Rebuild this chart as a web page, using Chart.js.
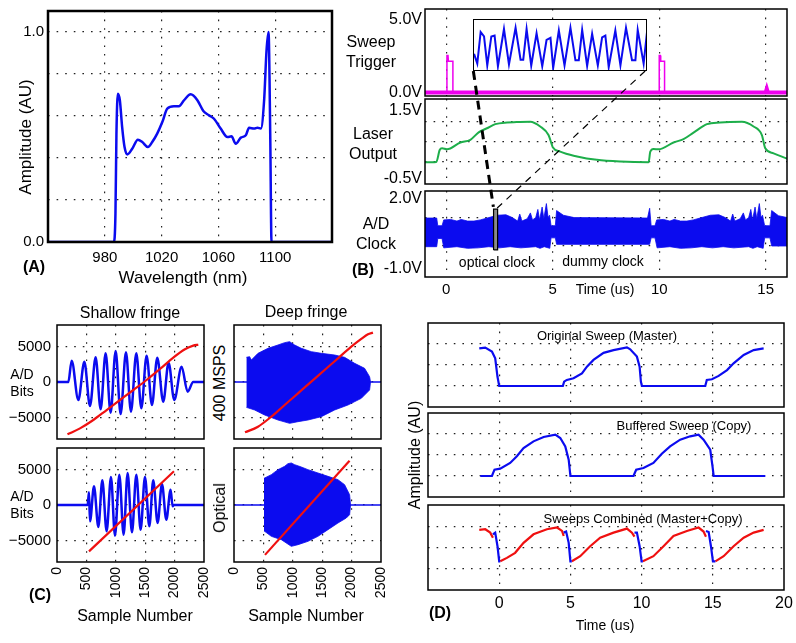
<!DOCTYPE html>
<html><head><meta charset="utf-8">
<script src="https://cdn.jsdelivr.net/npm/chart.js@4.4.1/dist/chart.umd.min.js"></script>
<style>
html,body{margin:0;padding:0;background:#fff;}
#page{position:relative;width:796px;height:643px;overflow:hidden;background:#fff;font-family:"Liberation Sans",Arial,sans-serif;color:#000;}
.t{position:absolute;white-space:nowrap;line-height:1;transform:translate(-50%,-50%);z-index:8;}
canvas{position:absolute;}
</style></head><body><div id="page"></div>
<script>
// ---------------- DATA ----------------
// (A) spectrum
const specWl  = [940, 986.4, 987.5, 988.2, 989.2, 990.6, 992.2, 993.9, 995.8, 999.3, 1003.3, 1006.4, 1010.4, 1013.4, 1016.9, 1020.5, 1024.0, 1028.7, 1032.2, 1035.8, 1040.5, 1045.2, 1049.4, 1053.4, 1056.9, 1061.6, 1066.4, 1069.2, 1072.2, 1075.8, 1079.3, 1081.6, 1085.2, 1087.5, 1089.9, 1092.2, 1093.9, 1095.3, 1096.5, 1097.4, 1140];
const specAmp = [0, 0, 0.135, 0.516, 0.706, 0.675, 0.548, 0.452, 0.417, 0.444, 0.487, 0.476, 0.452, 0.476, 0.516, 0.571, 0.635, 0.646, 0.646, 0.675, 0.703, 0.675, 0.624, 0.603, 0.587, 0.540, 0.500, 0.503, 0.468, 0.497, 0.508, 0.544, 0.540, 0.544, 0.540, 0.675, 0.913, 1.0, 0.516, 0, 0];
const specXTicks = [980, 1020, 1060, 1100];
const specYGrid = [0.2, 0.4, 0.6, 0.8, 1.0];
const specYTickVals = [0, 1.0];
const specYTickLabels = ['0.0', '1.0'];

// (B) sweep trigger
const trigBaseT = [-1, 15.0, 15.05, 15.1, 16];
const trigBaseV = [0, 0, 0.25, 0, 0];
const trigPulseT = [0.03, 0.03, 0.08, 0.1, 0.31, 0.31, null, 10.0, 10.0, 10.05, 10.07, 10.25, 10.25];
const trigPulseV = [0, 2.55, 2.55, 2.15, 2.15, 0, null, 0, 2.55, 2.55, 2.15, 2.15, 0];
// (B) laser output
const laserT = [-1.0, -0.47, -0.31, -0.2, 0.03, 0.66, 1.13, 1.52, 1.91, 2.3, 2.85, 3.3, 3.94, 4.41, 4.8, 4.96, 5.0, 5.35, 6.14, 7.07, 8.17, 9.5, 9.58, 9.73, 9.97, 10.67, 11.14, 11.61, 12.24, 12.86, 13.88, 14.43, 14.82, 14.98, 15.37, 16.0];
const laserV = [-0.01, 0.0, 0.35, 0.40, 0.37, 0.57, 0.65, 0.87, 0.99, 1.11, 1.16, 1.17, 1.18, 1.04, 0.79, 0.5, 0.43, 0.30, 0.16, 0.06, 0.01, -0.01, 0.30, 0.38, 0.37, 0.57, 0.67, 0.86, 1.11, 1.16, 1.18, 1.04, 0.79, 0.40, 0.25, 0.10];
// (B) A/D clock envelope: upper and lower edges
const clockUpT = [-1.0, -0.45, -0.4, -0.2, -0.12, 0.2, 0.5, 0.7, 1.0, 1.3, 1.6, 2.0, 2.4, 2.8, 3.1, 3.35, 3.45, 3.55, 3.8, 3.95, 4.05, 4.2, 4.3, 4.38, 4.5, 4.58, 4.7, 4.78, 4.85, 4.92, 5.12, 5.18, 5.5, 6.0, 9.45, 9.55, 9.62, 9.8, 9.88, 10.2, 10.5, 10.7, 11.0, 11.3, 11.6, 12.0, 12.4, 12.8, 13.1, 13.35, 13.45, 13.55, 13.8, 13.95, 14.05, 14.2, 14.3, 14.38, 14.5, 14.58, 14.7, 14.78, 14.85, 14.95, 15.2, 15.28, 15.6, 16.0];
const clockUpV = [1.18, 1.18, 0.85, 0.85, 1.1, 1.12, 1.05, 1.12, 1.05, 1.05, 1.1, 1.2, 1.3, 1.32, 1.2, 1.05, 1.35, 1.05, 1.15, 1.4, 1.1, 1.2, 1.55, 1.1, 1.65, 1.15, 1.8, 1.2, 1.3, 0.85, 0.85, 1.5, 1.3, 1.2, 1.18, 1.6, 0.85, 0.85, 1.1, 1.12, 1.05, 1.12, 1.05, 1.05, 1.1, 1.2, 1.3, 1.32, 1.2, 1.05, 1.35, 1.05, 1.15, 1.4, 1.1, 1.2, 1.55, 1.1, 1.65, 1.15, 1.8, 1.2, 1.3, 0.85, 0.85, 1.5, 1.28, 1.2];
const clockLoT = [-1.0, -0.45, -0.4, -0.2, -0.12, 0.5, 1.0, 1.5, 2.0, 2.5, 3.0, 3.5, 4.2, 4.4, 4.6, 4.86, 4.92, 5.12, 5.18, 9.55, 9.62, 9.8, 9.9, 10.5, 11.0, 11.5, 12.0, 12.5, 13.0, 13.5, 14.2, 14.4, 14.6, 14.88, 14.95, 15.2, 15.28, 16.0];
const clockLoV = [-0.05, -0.05, 0.3, 0.3, -0.1, -0.05, -0.12, -0.1, -0.05, -0.1, -0.05, -0.1, -0.05, -0.12, -0.05, -0.12, 0.33, 0.33, 0.05, 0.05, 0.33, 0.33, -0.1, -0.05, -0.12, -0.1, -0.05, -0.1, -0.05, -0.1, -0.05, -0.12, -0.05, -0.12, 0.33, 0.33, -0.02, -0.02];
// highlighted clock window
const markT = [2.22, 2.41];
const markTopV = [1.56, 1.56], markBotV = [-0.19, -0.19];
const markOutT = [2.22, 2.22, 2.41, 2.41, 2.22];
const markOutV = [-0.19, 1.56, 1.56, -0.19, -0.19];
// zoom connector lines (time us, clock volts)
const connThickT = [1.27, 2.21], connThickV = [7.49, 1.66];
const connThinT = [9.34, 2.39], connThinV = [7.49, 1.61];
// magnified clock (ns, V)
const zoomNs = [0.9, 3.7, 6.6, 9.5, 12.3, 15.8, 18.6, 21.5, 26.7, 31.0, 36.7, 41.0, 43.3, 46.2, 50.2, 54.8, 59.7, 63.4, 66.8, 69.1, 74.0, 78.9, 84.0, 88.3, 91.2, 94.1, 98.4, 102.7, 107.6, 111.3, 114.1, 117.0, 122.7, 127.1, 131.9, 137.1, 140.0, 142.0, 147.1, 150.0];
const zoomV  = [0.39, 0.06, 1.13, 0.98, 0.0, 0.98, 1.01, -0.03, 1.23, 0.03, 1.27, 0.19, 0.19, 1.23, -0.01, 1.09, -0.03, 0.86, 0.93, -0.09, 1.18, 0.0, 1.27, 0.17, 0.17, 1.20, -0.02, 1.07, 0.0, 0.95, 1.01, -0.06, 1.18, 0.0, 1.27, 0.17, 0.17, 1.20, 0.06, 1.13];
const bTimeTicks = [0, 5, 10, 15];
const bTimeLabels = ['0', '5', '10', '15'];

// (C) fringes
const sh1X = [0, 193, 249, 363, 465, 561, 657, 742, 827, 912, 997, 1082, 1173, 1258, 1349, 1434, 1524, 1615, 1705, 1807, 1898, 1994, 2119, 2221, 2317, 2500];
const sh1Y = [0, 0, 2995, -2527, 2855, -3370, 3463, -3838, 4025, -4306, 4352, -4493, 4165, -4165, 4025, -3697, 3697, -3229, 3416, -2761, 2714, -2527, 2153, -1357, 0, 0];
const red1X = [178, 391, 618, 844, 1071, 1298, 1524, 1751, 1978, 2176, 2318, 2403];
const red1Y = [-7348, -6505, -5335, -3931, -2527, -1123, 281, 1825, 3416, 4586, 5101, 5242];
const deep1UpX = [210, 266, 295, 408, 578, 748, 861, 946, 1031, 1145, 1315, 1485, 1711, 1881, 2051, 2221, 2306, 2323];
const deep1UpY = [3463, 3557, 3089, 4025, 4727, 5195, 5522, 5663, 5195, 4727, 4259, 4025, 3791, 3463, 2621, 1919, 749, 0];
const deep1LoX = [210, 351, 521, 748, 946, 1088, 1258, 1485, 1711, 1938, 2165, 2306, 2323];
const deep1LoY = [-3557, -3931, -4633, -5335, -5803, -5569, -5335, -4867, -3931, -3229, -2293, -1123, 0];
const red2X = [187, 408, 635, 861, 1088, 1315, 1541, 1768, 1995, 2165, 2278, 2363];
const red2Y = [-7067, -6271, -4867, -3229, -1591, 47, 1685, 3323, 4961, 6037, 6692, 6926];
const sh2X = [0, 521, 544, 561, 629, 703, 771, 844, 918, 986, 1060, 1133, 1201, 1275, 1349, 1422, 1496, 1570, 1637, 1711, 1785, 1859, 1932, 1966, 1989, 2500];
const sh2Y = [0, 0, 1778, -2293, 2621, -3089, 3463, -3697, 3931, -4306, 4259, -4165, 4493, -3838, 4259, -3463, 3931, -2995, 3463, -2527, 2948, -2059, 2153, -187, 0, 0];
const red3X = [544, 1989];
const red3Y = [-6505, 4727];
const deep2UpX = [510, 521, 635, 748, 861, 918, 975, 1031, 1145, 1258, 1428, 1598, 1768, 1881, 1966, 1983];
const deep2UpY = [3791, 3791, 4259, 4961, 5429, 5803, 5897, 5663, 5335, 4961, 4493, 4025, 3557, 2855, 1451, 0];
const deep2LoX = [510, 521, 635, 805, 975, 1088, 1258, 1428, 1598, 1768, 1910, 1966, 1983];
const deep2LoY = [-3697, -3697, -4399, -4867, -5803, -5569, -5101, -4399, -3463, -2527, -1825, -1357, 0];
const red4X = [527, 1965];
const red4Y = [-7000, 6200];
const flatX = [0, 2500], flatY = [0, 0];
const cXTicks = [0, 500, 1000, 1500, 2000, 2500];
const cXLabels = ['0', '500', '1000', '1500', '2000', '2500'];
const cYTicks = [-5000, 0, 5000];
const cYLabels = ['\u22125000', '0', '5000'];

// (D) sweeps
const masterT = [-1.40, -0.98, -0.51, -0.28, -0.12, 0.0, 4.47, 4.56, 4.75, 5.22, 5.81, 6.16, 6.62, 7.33, 8.03, 8.97, 9.2, 9.67, 9.86, 9.95, 10.02, 14.47, 14.58, 14.94, 15.41, 16.0, 16.46, 17.17, 17.87, 18.57];
const masterY = [2.79, 2.83, 2.64, 2.32, 1.44, 1.0, 1.0, 1.21, 1.29, 1.37, 1.6, 1.92, 2.24, 2.58, 2.71, 2.84, 2.75, 2.40, 1.92, 1.21, 1.0, 1.0, 1.29, 1.32, 1.48, 1.76, 2.08, 2.48, 2.71, 2.79];
const copyT = [-1.33, -0.51, -0.33, 0.07, 0.77, 1.24, 1.71, 2.41, 3.12, 3.94, 4.29, 4.64, 4.88, 5.0, 9.43, 9.62, 10.13, 10.83, 11.42, 12.0, 12.71, 13.41, 14.0, 14.35, 14.82, 14.98, 15.06, 18.69];
const copyY = [1.0, 1.0, 1.3, 1.35, 1.62, 1.94, 2.33, 2.65, 2.86, 2.97, 2.81, 2.41, 1.78, 1.0, 1.0, 1.3, 1.38, 1.62, 2.06, 2.41, 2.73, 2.89, 2.97, 2.73, 2.25, 1.46, 1.0, 1.0];
const combRedT = [-1.40, -0.98, -0.63, -0.44, null, 0.07, 0.54, 1.12, 1.71, 2.41, 3.35, 4.06, 4.41, 4.53, null, 5.1, 5.69, 6.39, 7.09, 8.03, 8.97, 9.32, 9.5, null, 10.09, 10.83, 11.54, 12.24, 13.18, 14.0, 14.35, 14.52, null, 15.18, 15.76, 16.46, 17.17, 17.87, 18.57];
const combRedY = [2.83, 2.86, 2.7, 2.46, null, 1.35, 1.51, 1.75, 2.22, 2.62, 2.86, 2.94, 2.78, 2.54, null, 1.35, 1.59, 2.06, 2.46, 2.70, 2.89, 2.70, 2.51, null, 1.35, 1.59, 2.06, 2.54, 2.78, 2.94, 2.75, 2.51, null, 1.35, 1.59, 2.06, 2.46, 2.70, 2.83];
const combBlueT = [-0.44, -0.28, -0.12, 0.0, 0.07, null, 4.53, 4.7, 4.88, 5.0, 5.1, null, 9.5, 9.67, 9.86, 10.0, 10.09, null, 14.52, 14.71, 14.87, 15.01, 15.18];
const combBlueY = [2.62, 2.7, 2.06, 1.35, 1.35, null, 2.70, 2.75, 2.22, 1.35, 1.35, null, 2.70, 2.70, 2.06, 1.35, 1.35, null, 2.78, 2.73, 2.06, 1.35, 1.35];
const dTimeTicks = [0, 5, 10, 15, 20];
const dTimeLabels = ['0', '5', '10', '15', '20'];

// ---------------- RENDER ----------------
Chart.defaults.font.family = '"Liberation Sans", Arial, sans-serif';
Chart.defaults.color = '#000';
Chart.defaults.elements.point.radius = 0;
const page = document.getElementById('page');
const BLUE = '#0b0bef', RED = '#ef1010', GREEN = '#1dae4a', MAG = '#ee00ee';
const pts = (xs, ys) => xs.map((x, i) => ({x: x, y: (x === null ? null : ys[i])}));

const framePlugin = {
  id: 'frame',
  beforeDraw(chart, a, o) {
    if (o.bg) { const c = chart.chartArea, ctx = chart.ctx; ctx.save(); ctx.fillStyle = '#fff'; ctx.fillRect(c.left, c.top, c.right - c.left, c.bottom - c.top); ctx.restore(); }
  },
  afterDraw(chart, a, o) {
    if (!o.w) return;
    const c = chart.chartArea, ctx = chart.ctx;
    ctx.save(); ctx.strokeStyle = '#000'; ctx.lineWidth = o.w;
    ctx.strokeRect(c.left, c.top, c.right - c.left, c.bottom - c.top); ctx.restore();
  }
};

function axis(a, isX, size) {
  if (!a || a.hidden) return {type: 'linear', min: a.min, max: a.max, display: false};
  return {
    type: 'linear', min: a.min, max: a.max,
    afterBuildTicks: s => { s.ticks = a.ticks.map(v => ({value: v})); },
    afterFit: s => { if (isX) s.height = size; else s.width = size; s.paddingLeft = 0; s.paddingRight = 0; s.paddingTop = 0; s.paddingBottom = 0; },
    grid: { drawTicks: false, lineWidth: 1.2, color: ctx => ((a.grid || []).indexOf(ctx.tick ? ctx.tick.value : NaN) >= 0 ? '#222' : 'rgba(0,0,0,0)') },
    border: { display: false, dash: [1.6, 7] },
    ticks: {
      display: !!a.labels, autoSkip: false, padding: a.pad || 4, color: '#000',
      font: {size: a.size || 15}, maxRotation: a.rot || 0, minRotation: a.rot || 0,
      callback: v => { if (!a.labels) return ''; const i = a.labelVals.indexOf(v); return i >= 0 ? a.labels[i] : ''; }
    }
  };
}

function panel(o) {
  const L = o.L || 0, R = o.R || 0, T = o.T || 0, B = o.B || 0;
  const W = o.w + L + R, H = o.h + T + B;
  const c = document.createElement('canvas');
  c.width = W; c.height = H;
  c.style.left = (o.x - L) + 'px'; c.style.top = (o.y - T) + 'px';
  c.style.width = W + 'px'; c.style.height = H + 'px'; c.style.zIndex = o.z || 1;
  page.appendChild(c);
  // first dataset in the list is drawn on top
  o.datasets.forEach((d, i) => { d.order = i; });
  return new Chart(c, {
    type: 'line',
    data: {datasets: o.datasets},
    options: {
      responsive: false, animation: false, devicePixelRatio: 1, events: [],
      layout: {autoPadding: false, padding: {left: 0, top: T, right: R, bottom: (o.xa && !o.xa.hidden) ? 0 : B}},
      plugins: {legend: {display: false}, tooltip: {enabled: false}, frame: {w: o.frameW || 0, bg: !!o.bg}},
      scales: {x: axis(o.xa, true, B), y: axis(o.ya, false, L)}
    },
    plugins: [framePlugin]
  });
}
const line = (xs, ys, color, w, extra) => Object.assign({data: pts(xs, ys), borderColor: color, borderWidth: w, fill: false, tension: 0, spanGaps: false}, extra || {});

function txt(s, x, y, size, ex) {
  ex = ex || {};
  const d = document.createElement('div'); d.className = 't'; d.textContent = s;
  d.style.left = x + 'px'; d.style.top = y + 'px'; d.style.fontSize = size + 'px';
  if (ex.bold) d.style.fontWeight = 'bold';
  if (ex.rot) d.style.transform = 'translate(-50%,-50%) rotate(-90deg)';
  page.appendChild(d);
}

// ----- (A) -----
panel({x: 48, y: 11, w: 284, h: 231, L: 48, T: 11, R: 8, B: 34, frameW: 2.5,
  xa: {min: 940, max: 1140, ticks: specXTicks, grid: specXTicks, labelVals: specXTicks, labels: specXTicks.map(String), size: 15, pad: 7},
  ya: {min: 0, max: 1.1, ticks: [0].concat(specYGrid), grid: specYGrid, labelVals: specYTickVals, labels: specYTickLabels, size: 15, pad: 4},
  datasets: [line(specWl, specAmp, BLUE, 2.5, {cubicInterpolationMode: 'monotone'})]
});
txt('Amplitude (AU)', 25, 137, 17, {rot: true});
txt('Wavelength (nm)', 183, 277, 17);
txt('(A)', 34, 267, 16, {bold: true});

// ----- (B) -----
const bx = {min: -1, max: 16, ticks: bTimeTicks, grid: bTimeTicks};
panel({x: 425, y: 9, w: 362, h: 87, L: 50, T: 9, R: 6, B: 4, frameW: 1.5,
  xa: Object.assign({}, bx),
  ya: {min: -0.25, max: 5.75, ticks: [0, 5], grid: [], labelVals: [0, 5], labels: ['0.0V', '5.0V'], size: 16, pad: 3},
  datasets: [line(trigPulseT, trigPulseV, MAG, 1.5), line(trigBaseT, trigBaseV, MAG, 4)]
});
panel({x: 425, y: 99, w: 362, h: 85, L: 50, T: 12, R: 6, B: 4, frameW: 1.5,
  xa: Object.assign({}, bx),
  ya: {min: -0.65, max: 1.85, ticks: [-0.5, 0, 0.6, 1.2, 1.5], grid: [0, 0.6, 1.2], labelVals: [-0.5, 1.5], labels: ['-0.5V', '1.5V'], size: 16, pad: 3},
  datasets: [line(laserT, laserV, GREEN, 2, {cubicInterpolationMode: 'monotone'})]
});
panel({x: 425, y: 191, w: 362, h: 86, L: 50, T: 12, R: 12, B: 24, frameW: 1.5,
  xa: Object.assign({}, bx, {labelVals: bTimeTicks, labels: bTimeLabels, size: 15, pad: 4}),
  ya: {min: -1.35, max: 2.34, ticks: [-1, 0, 1.2, 2], grid: [0, 1.2], labelVals: [-1, 2], labels: ['-1.0V', '2.0V'], size: 16, pad: 3},
  datasets: [
    line(markOutT, markOutV, '#000', 1.2),
    line(markT, markTopV, '#000', 0, {fill: '+1', backgroundColor: '#8a8a8a'}),
    line(markT, markBotV, '#000', 0),
    line(clockUpT, clockUpV, BLUE, 0.8, {fill: '+1', backgroundColor: BLUE}),
    line(clockLoT, clockLoV, BLUE, 0.8)
  ]
});
panel({x: 425, y: 9, w: 362, h: 268, z: 4,
  xa: {min: -1, max: 16, hidden: true}, ya: {min: -1.35, max: 10.15, hidden: true},
  datasets: [
    line(connThickT, connThickV, '#000', 3, {borderDash: [9, 6], clip: false}),
    line(connThinT, connThinV, '#000', 1.2, {borderDash: [7, 6], clip: false})
  ]
});
panel({x: 473, y: 19, w: 174, h: 52, z: 5, frameW: 2, bg: true,
  xa: {min: 0, max: 150, hidden: true}, ya: {min: -0.19, max: 1.57, hidden: true},
  datasets: [line(zoomNs, zoomV, BLUE, 2)]
});
txt('Sweep', 371, 42, 16); txt('Trigger', 371, 62, 16);
txt('Laser', 373, 134, 16); txt('Output', 373, 154, 16);
txt('A/D', 376, 224, 16); txt('Clock', 376, 244, 16);
txt('(B)', 363, 270, 16, {bold: true});
txt('optical clock', 497, 262, 14); txt('dummy clock', 603, 261, 14);
txt('Time (us)', 605, 289, 14);

// ----- (C) -----
const cy = {min: -8000, max: 8000, ticks: cYTicks, grid: cYTicks};
const cyL = Object.assign({}, cy, {labelVals: cYTicks, labels: cYLabels, size: 15, pad: 6});
const cx = {min: 0, max: 2500, ticks: cXTicks, grid: [500, 1000, 1500, 2000]};
const cxL = Object.assign({}, cx, {labelVals: cXTicks, labels: cXLabels, size: 14, pad: 5, rot: 90});
panel({x: 57, y: 325, w: 147, h: 114, L: 57, T: 8, R: 6, B: 4, frameW: 1.5, xa: cx, ya: cyL,
  datasets: [line(red1X, red1Y, RED, 2.2, {cubicInterpolationMode: 'monotone'}), line(sh1X, sh1Y, BLUE, 2.5, {cubicInterpolationMode: 'monotone'})]});
panel({x: 234, y: 325, w: 147, h: 114, L: 6, T: 8, R: 6, B: 4, frameW: 1.5, xa: cx, ya: cy,
  datasets: [
    line(red2X, red2Y, RED, 2.2, {cubicInterpolationMode: 'monotone'}),
    line(deep1UpX, deep1UpY, BLUE, 0.8, {fill: '+1', backgroundColor: BLUE}),
    line(deep1LoX, deep1LoY, BLUE, 0.8),
    line(flatX, flatY, BLUE, 1.5)]});
panel({x: 57, y: 448, w: 147, h: 114, L: 57, T: 8, R: 10, B: 45, frameW: 1.5, xa: cxL, ya: cyL,
  datasets: [line(red3X, red3Y, RED, 2.2), line(sh2X, sh2Y, BLUE, 2.5, {cubicInterpolationMode: 'monotone'})]});
panel({x: 234, y: 448, w: 147, h: 114, L: 6, T: 8, R: 10, B: 45, frameW: 1.5, xa: cxL, ya: cy,
  datasets: [
    line(red4X, red4Y, RED, 2.2),
    line(deep2UpX, deep2UpY, BLUE, 0.8, {fill: '+1', backgroundColor: BLUE}),
    line(deep2LoX, deep2LoY, BLUE, 0.8),
    line(flatX, flatY, BLUE, 1.5)]});
txt('Shallow fringe', 130, 313, 16); txt('Deep fringe', 306, 312, 16);
txt('A/D', 22, 374, 14); txt('Bits', 22, 391, 14);
txt('A/D', 22, 496, 14); txt('Bits', 22, 513, 14);
txt('400 MSPS', 220, 383, 16, {rot: true}); txt('Optical', 220, 508, 16, {rot: true});
txt('Sample Number', 135, 616, 16); txt('Sample Number', 306, 616, 16);
txt('(C)', 40, 595, 16, {bold: true});

// ----- (D) -----
const dx = {min: -5, max: 20, ticks: dTimeTicks, grid: [0, 5, 10, 15]};
const dy = {min: 0, max: 4, ticks: [1, 2, 3], grid: [1, 2, 3]};
panel({x: 428, y: 323, w: 356, h: 84, L: 6, T: 6, R: 6, B: 4, frameW: 1.5, xa: dx, ya: dy,
  datasets: [line(masterT, masterY, BLUE, 2.2)]});
panel({x: 428, y: 413, w: 356, h: 84, L: 6, T: 4, R: 6, B: 4, frameW: 1.5, xa: dx, ya: dy,
  datasets: [line(copyT, copyY, BLUE, 2.2)]});
panel({x: 428, y: 505, w: 356, h: 85, L: 6, T: 4, R: 20, B: 26, frameW: 1.5,
  xa: Object.assign({}, dx, {labelVals: dTimeTicks, labels: dTimeLabels, size: 16, pad: 4}), ya: dy,
  datasets: [line(combBlueT, combBlueY, BLUE, 2.2), line(combRedT, combRedY, RED, 2.2)]});
txt('Original Sweep (Master)', 607, 335, 13);
txt('Buffered Sweep (Copy)', 684, 425, 13);
txt('Sweeps Combined (Master+Copy)', 643, 518, 13);
txt('Amplitude (AU)', 415, 455, 16, {rot: true});
txt('Time (us)', 605, 625, 14);
txt('(D)', 440, 613, 16, {bold: true});
</script></body></html>
